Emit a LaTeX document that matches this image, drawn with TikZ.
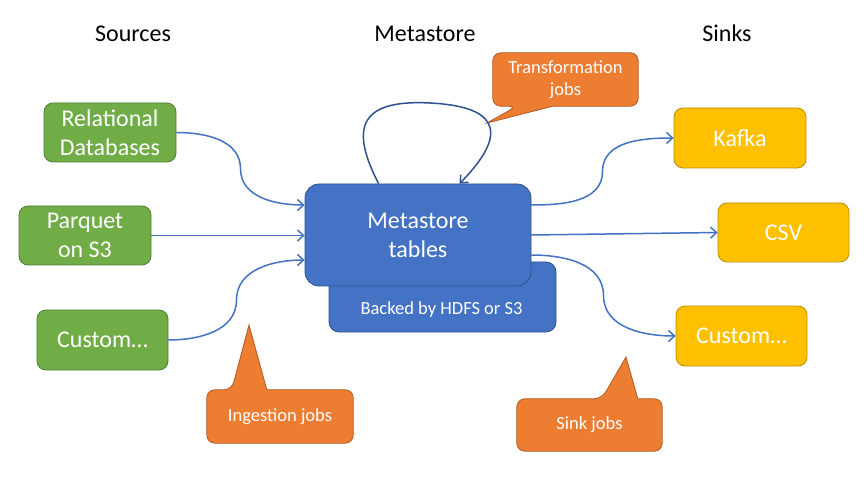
\documentclass[tikz,border=0pt]{standalone}
\usepackage{fontspec}
\setmainfont{Carlito}
\usetikzlibrary{arrows.meta,calc,backgrounds}
\definecolor{grn}{HTML}{70AD47}
\definecolor{grnd}{HTML}{507E32}
\definecolor{blu}{HTML}{4472C4}
\definecolor{blud}{HTML}{2F528F}
\definecolor{yel}{HTML}{FFC000}
\definecolor{yeld}{HTML}{BC8C00}
\definecolor{org}{HTML}{ED7D31}
\definecolor{orgd}{HTML}{AE5A21}
\begin{document}
\begin{tikzpicture}[x=1pt,y=1pt,
  mbox/.style={rectangle, rounded corners=9pt, text=white, align=center,
    font=\fontsize{24}{28.8}\selectfont, line width=0.8pt, inner sep=0pt},
  srcbox/.style={mbox, fill=grn, draw=grnd, minimum width=132pt, minimum height=59pt},
  sinkbox/.style={mbox, fill=yel, draw=yeld, minimum width=131pt, minimum height=60pt},
  hdr/.style={font=\fontsize{24}{28.8}\selectfont, text=black, inner sep=0pt},
  calltext/.style={text=white, align=center, font=\fontsize{18.5}{22}\selectfont, inner sep=0pt},
  callshape/.style={fill=org, draw=orgd, line width=0.8pt, rounded corners=8pt},
  flowline/.style={draw=blu, line width=1.5pt, -{Straight Barb[length=6pt,width=11pt]}},
  loopline/.style={draw=blud, line width=1.5pt, -{Straight Barb[length=6pt,width=11pt]}}]
\useasboundingbox (0,0) rectangle (867,477);
\begin{pgfonlayer}{background}
\fill[white] (0,0) rectangle (867,477);
\end{pgfonlayer}

% headers
\node[hdr] (hsrc) at (133,443.5) {Sources};
\node[hdr] (hmeta) at (425,443.5) {Metastore};
\node[hdr] (hsink) at (727,443.5) {Sinks};

% sources
\node[srcbox] (rel) at (110,344.5) {Relational\\Databases};
\node[srcbox] (parq) at (85,241.5) {Parquet\\on S3};
\node[srcbox, minimum width=131pt, minimum height=60pt] (cust) at (102.5,137) {Custom…};

% metastore
\node[mbox, fill=blu, draw=blud, minimum width=227pt, minimum height=70pt, rounded corners=10pt] (backed) at (442.5,180) {};
\node[mbox, fill=blu, draw=blud, minimum width=226pt, minimum height=102pt, rounded corners=14pt] (meta) at (418,242) {Metastore\\tables};
\node[calltext] (backedlabel) at (441.5,167) {Backed by HDFS or S3};

% sinks
\node[sinkbox, minimum width=132pt] (kafka) at (740,339) {Kafka};
\node[sinkbox, minimum height=59pt] (csv) at (783.5,244.5) {CSV};
\node[sinkbox] (custy) at (741.5,141) {Custom…};

% callouts
\node[calltext, minimum width=145pt, minimum height=53pt] (trans) at (565.5,397.5) {Transformation\\jobs};
\node[calltext, minimum width=146pt, minimum height=53pt] (ing) at (280,60.5) {Ingestion jobs};
\node[calltext, minimum width=145pt, minimum height=52pt] (sinkj) at (589.5,52) {Sink jobs};
\coordinate (transtip) at (487,354);
\coordinate (ingtip) at (249,152);
\coordinate (sinktip) at (626,120);
\begin{pgfonlayer}{background}
\draw[callshape] (trans.north) -- (trans.north west) -- (trans.south west)
  -- ([xshift=24pt]trans.south west) [sharp corners] -- (transtip)
  -- ([xshift=60pt]trans.south west) [rounded corners=8pt]
  -- (trans.south east) -- (trans.north east) -- cycle;
\draw[callshape] (ing.south) -- (ing.south west) -- (ing.north west)
  -- ([xshift=25pt]ing.north west) [sharp corners] -- (ingtip)
  -- ([xshift=60pt]ing.north west) [rounded corners=8pt]
  -- (ing.north east) -- (ing.south east) -- cycle;
\draw[callshape] (sinkj.south) -- (sinkj.south west) -- (sinkj.north west)
  -- ([xshift=85pt]sinkj.north west) [sharp corners] -- (sinktip)
  -- ([xshift=121pt]sinkj.north west) [rounded corners=8pt]
  -- (sinkj.north east) -- (sinkj.south east) -- cycle;
\end{pgfonlayer}

% source connectors
\draw[flowline] (rel.east) to[out=0,in=90] ($(rel.east)!0.5!([yshift=30pt]meta.west)$)
  to[out=-90,in=180] ([yshift=30pt]meta.west);
\draw[flowline] (parq.east) -- (parq.east -| meta.west);
\draw[flowline] (cust.east) to[out=0,in=-90] ($(cust.east)!0.5!([yshift=-25pt]meta.west)$)
  to[out=90,in=180] ([yshift=-25pt]meta.west);

% sink connectors
\draw[flowline] ([yshift=30pt]meta.east) to[out=0,in=-90] ($([yshift=30pt]meta.east)!0.5!(kafka.west)$)
  to[out=90,in=180] (kafka.west);
\draw[flowline] (meta.east) -- (csv.west);
\draw[flowline] ([yshift=-20pt]meta.east) to[out=0,in=90] ($([yshift=-20pt]meta.east)!0.5!(custy.west)$)
  to[out=-90,in=180] (custy.west);

% transformation loop
\coordinate (looptop) at (430,374);
\draw[loopline] ([xshift=74pt]meta.north west) .. controls (352,345) and (355,378) .. (looptop)
  .. controls (490,371) and (515,350) .. ([xshift=155pt]meta.north west);
\end{tikzpicture}
\end{document}
